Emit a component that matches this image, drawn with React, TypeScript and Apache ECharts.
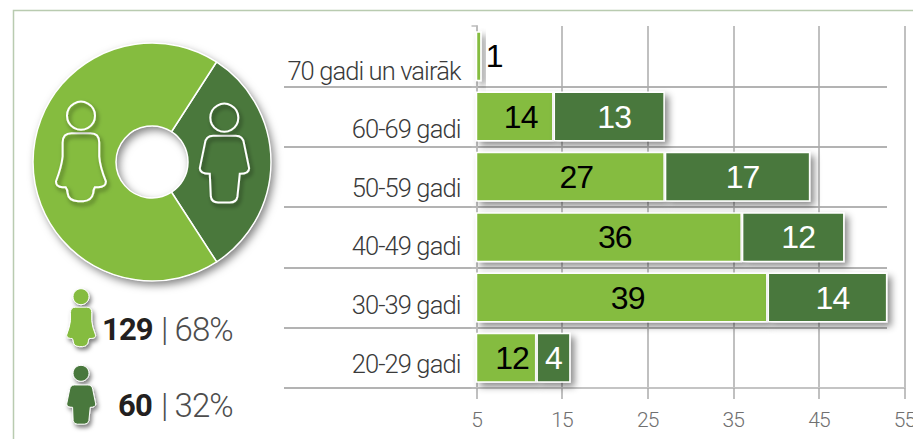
import React, { useEffect, useRef } from "react";
import * as echarts from "echarts";

const categories = ["20-29 gadi", "30-39 gadi", "40-49 gadi", "50-59 gadi", "60-69 gadi", "70 gadi un vairāk"];
const labelLineHeights = [12.4, 15, 17.6, 21.8, 25, 29.6];
const women = [12, 39, 36, 27, 14, 1];
const men = [4, 14, 12, 17, 13, null];
const totals = [
  { name: "Vīrieši", value: 60 },
  { name: "Sievietes", value: 129 },
];
const xTicks = [5, 15, 25, 35, 45, 55];
const AXIS_MIN = 5;
const AXIS_MAX = 55;
const SMALLEST_DRAWN = 5.6;
const LIGHT = "#85BC3F";
const DARK = "#4A783C";
const GRID = "#ababab";

const WOMAN =
  "M215 400H272Q298 400 298 428V470Q300 500 318 545Q318 562 295 562H285Q280 570 280 580Q275 603 250 604H235Q205 603 203 580Q203 570 197 562H188Q168 562 168 545Q185 500 188 470V428Q188 400 215 400Z";
const MAN =
  "M640 408H708Q730 408 733 432L748 505Q748 522 720 522L713 590Q710 608 690 608H655Q635 608 633 590L630 522Q600 522 600 505L615 432Q618 408 640 408Z";
echarts.graphic.registerShape("woman", echarts.graphic.extendPath(WOMAN, {}));
echarts.graphic.registerShape("man", echarts.graphic.extendPath(MAN, {}));

const iconShadow = { shadowBlur: 4, shadowOffsetX: 2, shadowOffsetY: 3, shadowColor: "rgba(0,0,0,0.5)" };
const outline = { fill: "none", stroke: "#fff", lineWidth: 6, ...iconShadow };
const headLine = { fill: "none", stroke: "#fff", lineWidth: 2, ...iconShadow };

function statText(x: number, y: number, text: string, weight: number, size: number) {
  return {
    type: "text",
    x,
    y,
    z: 20,
    style: {
      text,
      fill: weight > 500 ? "#231f20" : "#4d4d4d",
      font: `${weight} ${size}px Roboto`,
      verticalAlign: "middle",
      align: "left",
    },
  };
}

export default function App() {
  const ref = useRef<HTMLDivElement>(null);
  useEffect(() => {
    const chart = echarts.init(ref.current!, undefined, { renderer: "svg" });
    const total = totals[0].value + totals[1].value;
    chart.setOption({
      animation: false,
      backgroundColor: "#fff",
      grid: [
        { left: 476.5, top: 26, width: 428, height: 362, outerBoundsMode: "none" },
        { left: 284, top: 26, width: 603, height: 362, outerBoundsMode: "none" },
      ],
      xAxis: [
        {
          type: "value",
          gridIndex: 0,
          min: AXIS_MIN,
          max: AXIS_MAX,
          axisLine: { show: true, onZero: false, lineStyle: { color: "#c4c4c4", width: 2 } },
          axisTick: { show: true, length: 11, customValues: xTicks, lineStyle: { color: GRID, width: 1.5 } },
          splitLine: { show: true, lineStyle: { color: GRID, width: 1.5 } },
          axisLabel: {
            customValues: xTicks,
            margin: 21,
            color: "#707070",
            fontFamily: "Roboto",
            fontWeight: 300,
            fontSize: 21,
            showMaxLabel: true,
            showMinLabel: true,
            hideOverlap: false,
            alignMinLabel: "center",
            alignMaxLabel: "center",
          },
        },
        { type: "value", gridIndex: 1, min: 0, max: 1, show: false },
      ],
      yAxis: [
        {
          type: "category",
          gridIndex: 0,
          data: categories.map((value, i) => ({
            value,
            textStyle: { lineHeight: labelLineHeights[i], verticalAlign: "top" },
          })),
          axisLine: { show: true, lineStyle: { color: "#bdbdbd", width: 2 } },
          axisTick: { show: true, length: 5, lineStyle: { color: "#bdbdbd", width: 1.5 } },
          axisLabel: {
            margin: 16,
            color: "#3a3a3a",
            fontFamily: "Roboto",
            fontWeight: 300,
            fontSize: 25.5,
            verticalAlign: "top",
            align: "right",
          },
        },
        {
          type: "category",
          gridIndex: 1,
          data: categories,
          axisLine: { show: false },
          axisTick: { show: false },
          axisLabel: { show: false },
          splitLine: { show: true, showMaxLine: false, interval: 0, lineStyle: { color: "#9a9a9a", width: 1.5 } },
        },
      ],
      graphic: [
        {
          type: "polyline",
          z: 1,
          shape: { points: [[13.5, 439], [13.5, 10.5], [913, 10.5]] },
          style: { fill: "none", stroke: "#b9cbb0", lineWidth: 1.5 },
        },
        { type: "woman", x: 0, y: 0, scaleX: 1 / 3, scaleY: 1 / 3, z: 20, style: outline },
        { type: "circle", z: 20, shape: { cx: 81, cy: 115.7, r: 14 }, style: headLine },
        { type: "man", x: 0, y: 0, scaleX: 1 / 3, scaleY: 1 / 3, z: 20, style: outline },
        { type: "circle", z: 20, shape: { cx: 224.3, cy: 117.7, r: 14 }, style: headLine },

        { type: "circle", z: 20, shape: { cx: 81, cy: 296.7, r: 8 }, style: { fill: LIGHT, stroke: "#fff", lineWidth: 1, ...iconShadow } },
        { type: "woman", x: 34.2, y: 230, scaleX: 0.193, scaleY: 0.193, z: 20, style: { fill: LIGHT, stroke: "#fff", lineWidth: 5, ...iconShadow } },
        { type: "circle", z: 20, shape: { cx: 81, cy: 373.3, r: 8 }, style: { fill: DARK, stroke: "#fff", lineWidth: 1, ...iconShadow } },
        { type: "man", x: -50.9, y: 305, scaleX: 0.196, scaleY: 0.196, z: 20, style: { fill: DARK, stroke: "#fff", lineWidth: 5, ...iconShadow } },

        statText(102, 329, "129", 700, 31),
        statText(161, 329, "| 68%", 300, 33),
        statText(118, 405, "60", 700, 31),
        statText(161, 405, "| 32%", 300, 33),
      ],
      series: [
        {
          type: "pie",
          radius: [36, 119],
          center: [152, 162],
          silent: true,
          z: 2,
          label: { show: false },
          labelLine: { show: false },
          itemStyle: { color: "#fff", shadowBlur: 9, shadowOffsetX: 3, shadowOffsetY: 4, shadowColor: "rgba(0,0,0,0.5)" },
          data: [{ name: "Kopā", value: total }],
        },
        {
          type: "pie",
          radius: [36, 119],
          center: [152, 162],
          startAngle: 57.2,
          silent: true,
          z: 3,
          label: { show: false },
          labelLine: { show: false },
          itemStyle: { borderColor: "#fff", borderWidth: 1.5 },
          data: [
            { ...totals[0], itemStyle: { color: DARK } },
            { ...totals[1], itemStyle: { color: LIGHT } },
          ],
        },
        {
          type: "line",
          xAxisIndex: 1,
          yAxisIndex: 1,
          data: [],
        },
        {
          type: "bar",
          xAxisIndex: 0,
          yAxisIndex: 0,
          name: "Sievietes",
          stack: "a",
          barWidth: 50,
          z: 5,
          itemStyle: {
            color: LIGHT,
            borderColor: "#fff",
            borderWidth: 1.5,
            shadowBlur: 7,
            shadowOffsetX: 4,
            shadowOffsetY: 4,
            shadowColor: "rgba(0,0,0,0.45)",
          },
          data: women.map((v) => ({
            value: Math.max(v, SMALLEST_DRAWN),
            label: {
              show: true,
              formatter: String(v),
              position: v < AXIS_MIN ? "right" : "inside",
              offset: v < AXIS_MIN ? [-1, 0] : [6, 0],
              color: "#000",
              fontFamily: "Liberation Sans",
              fontSize: 32,
            },
          })),
        },
        {
          type: "bar",
          xAxisIndex: 0,
          yAxisIndex: 0,
          name: "Vīrieši",
          stack: "a",
          barWidth: 50,
          z: 6,
          itemStyle: {
            color: DARK,
            borderColor: "#fff",
            borderWidth: 1.5,
            shadowBlur: 7,
            shadowOffsetX: 4,
            shadowOffsetY: 4,
            shadowColor: "rgba(0,0,0,0.45)",
          },
          data: men.map((v) => ({
            value: v,
            label: {
              show: v !== null,
              formatter: String(v),
              position: "inside",
              offset: [v !== null && v < 10 ? 0 : 5, 0],
              color: "#fff",
              fontFamily: "Liberation Sans",
              fontSize: 32,
            },
          })),
        },
      ],
    });
    return () => chart.dispose();
  }, []);
  return (
    <div
      ref={ref}
      style={{ position: "fixed", left: 0, top: 0, width: 913, height: 439, overflow: "hidden", letterSpacing: "-0.9px" }}
    />
  );
}
